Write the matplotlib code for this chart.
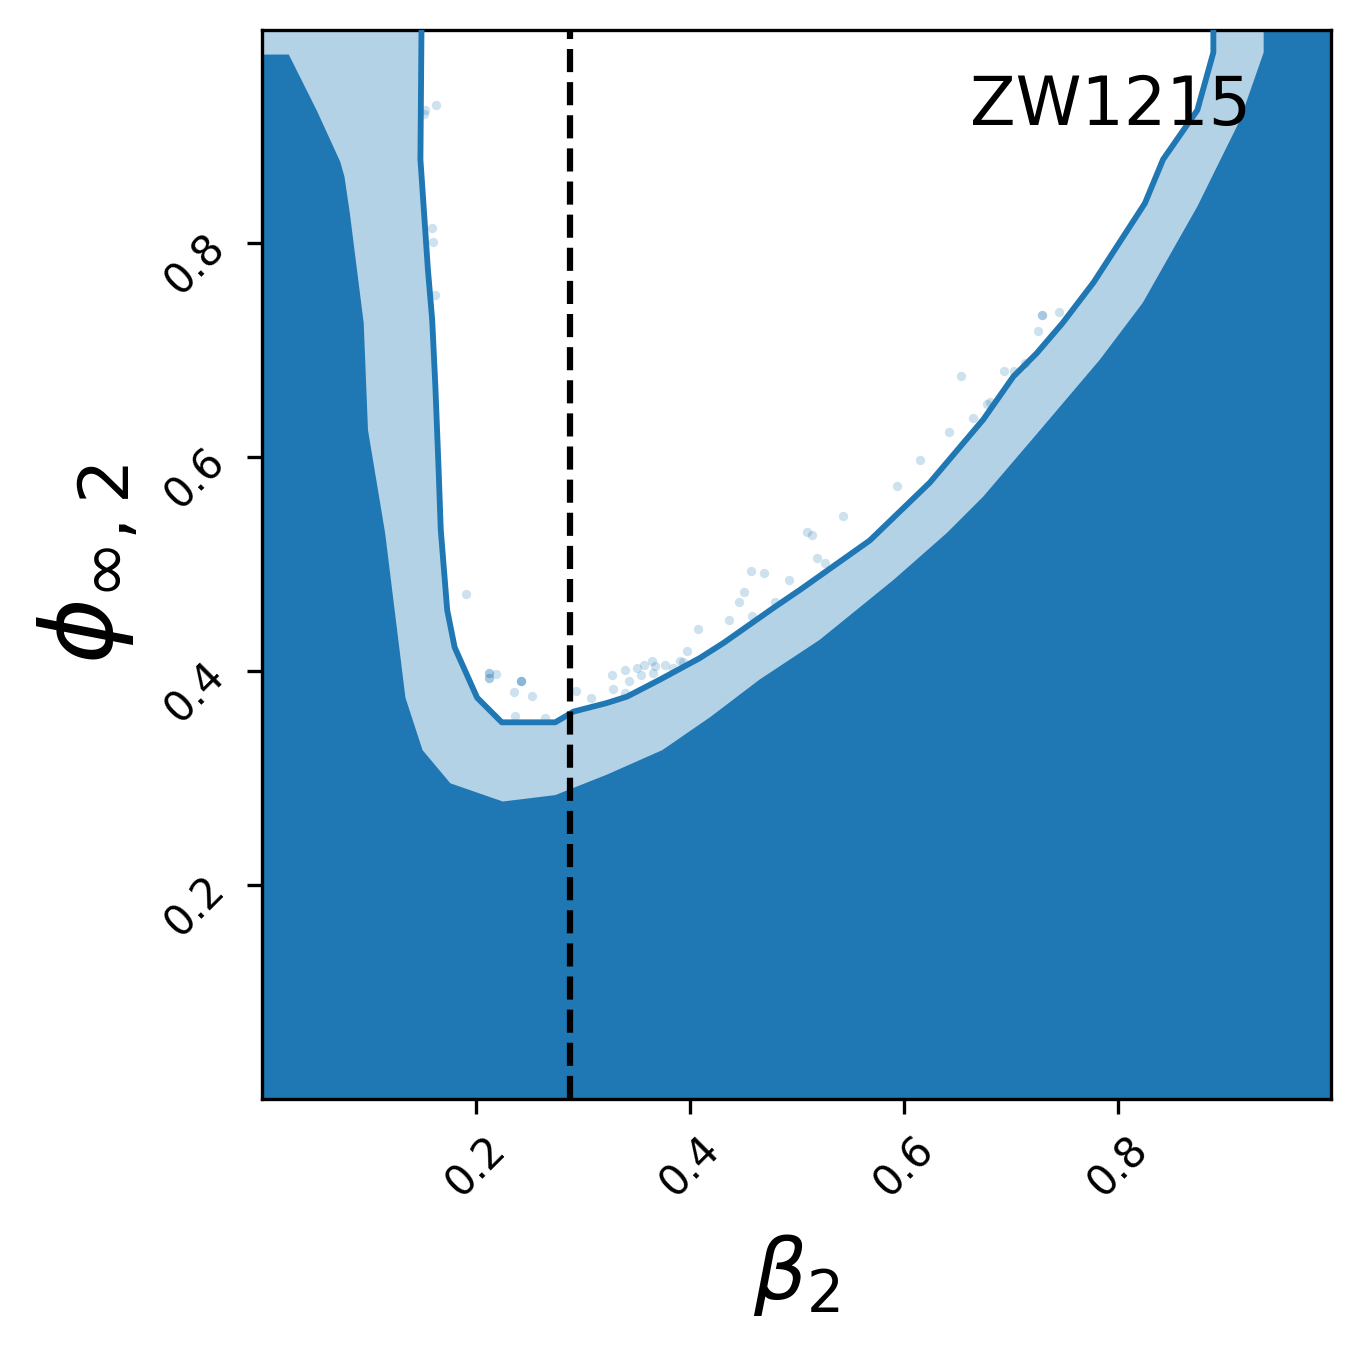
import numpy as np
import matplotlib
matplotlib.use("Agg")
import matplotlib.pyplot as plt

# contour boundaries (beta_2, phi_inf_2)
outer_x = [0.0, 0.025, 0.051, 0.073, 0.077, 0.082, 0.095, 0.099, 0.115, 0.134,
           0.150, 0.176, 0.225, 0.274, 0.322, 0.374, 0.419, 0.465, 0.521, 0.590,
           0.640, 0.674, 0.727, 0.783, 0.823, 0.874, 0.914, 0.936, 0.936]
outer_y = [0.976, 0.976, 0.924, 0.876, 0.862, 0.828, 0.725, 0.625, 0.529, 0.375,
           0.326, 0.295, 0.278, 0.284, 0.303, 0.326, 0.357, 0.392, 0.429, 0.485,
           0.529, 0.563, 0.625, 0.691, 0.744, 0.834, 0.915, 0.978, 1.0]

inner_x = [0.149, 0.148, 0.155, 0.159, 0.162, 0.165, 0.167, 0.173, 0.180, 0.201,
           0.224, 0.274, 0.291, 0.322, 0.341, 0.372, 0.409, 0.431, 0.478, 0.503,
           0.568, 0.624, 0.674, 0.702, 0.724, 0.748, 0.777, 0.825, 0.842, 0.874,
           0.889, 0.889]
inner_y = [1.0, 0.878, 0.775, 0.728, 0.665, 0.588, 0.532, 0.457, 0.422, 0.375,
           0.352, 0.352, 0.362, 0.370, 0.376, 0.392, 0.412, 0.426, 0.459, 0.476,
           0.522, 0.576, 0.635, 0.675, 0.697, 0.725, 0.763, 0.837, 0.878, 0.924,
           0.978, 1.0]

# samples outside the inner contour
pts_x = [0.152, 0.163, 0.151, 0.159, 0.160, 0.162, 0.191, 0.212, 0.212, 0.219,
         0.212, 0.212, 0.242, 0.242, 0.242, 0.235, 0.252, 0.236, 0.264, 0.293,
         0.307, 0.327, 0.339, 0.343, 0.350, 0.354, 0.357, 0.364, 0.367, 0.365,
         0.377, 0.384, 0.391, 0.393, 0.397, 0.407, 0.436, 0.446, 0.328, 0.339,
         0.450, 0.457, 0.469, 0.479, 0.492, 0.458, 0.509, 0.514, 0.519, 0.526,
         0.543, 0.593, 0.615, 0.642, 0.653, 0.664, 0.677, 0.680, 0.693, 0.703,
         0.713, 0.725, 0.729, 0.745, 0.729]
pts_y = [0.924, 0.929, 0.920, 0.814, 0.801, 0.751, 0.472, 0.398, 0.398, 0.397,
         0.393, 0.393, 0.391, 0.391, 0.391, 0.380, 0.377, 0.358, 0.356, 0.381,
         0.375, 0.396, 0.401, 0.391, 0.403, 0.396, 0.406, 0.409, 0.405, 0.398,
         0.406, 0.403, 0.409, 0.408, 0.419, 0.439, 0.448, 0.464, 0.383, 0.379,
         0.474, 0.493, 0.492, 0.464, 0.485, 0.451, 0.530, 0.527, 0.506, 0.501,
         0.545, 0.573, 0.597, 0.623, 0.676, 0.636, 0.649, 0.651, 0.680, 0.680,
         0.688, 0.718, 0.733, 0.735, 0.733]

beta_ref = 0.288
label = "ZW1215"

dark = "#1f77b4"
light = "#b4d2e6"

fig = plt.figure(figsize=(1362 / 300, 1361 / 300), dpi=300)
ax = fig.add_axes([0.1924, 0.1925, 0.7849, 0.7855])

ax.set_facecolor(dark)
# light band: region above the outer contour
ax.fill(outer_x + [0.0], outer_y + [1.0], color=light, lw=0, zorder=1)
# white: region above the inner contour
ax.fill(inner_x, inner_y, color="white", lw=0, zorder=2)
ax.scatter(pts_x, pts_y, s=5, color=dark, alpha=0.22, lw=0, zorder=3)
ax.plot(inner_x, inner_y, color=dark, lw=1.4, zorder=4)
ax.axvline(beta_ref, color="black", ls="--", lw=1.5, zorder=5)

ax.text(0.925, 0.96, label, transform=ax.transAxes, ha="right", va="top",
        fontsize=16, zorder=6)

ax.set_xlim(0.0, 0.999)
ax.set_ylim(0.0, 0.999)
ax.set_xticks([0.2, 0.4, 0.6, 0.8])
ax.set_yticks([0.2, 0.4, 0.6, 0.8])
ax.tick_params(labelsize=10)
for t in ax.get_xticklabels() + ax.get_yticklabels():
    t.set_rotation(45)
ax.set_xlabel(r"$\beta_2$", fontsize=20, labelpad=6.5)
ax.set_ylabel(r"$\phi_{\infty,2}$", fontsize=24)

fig.savefig("out.png", dpi=300)
